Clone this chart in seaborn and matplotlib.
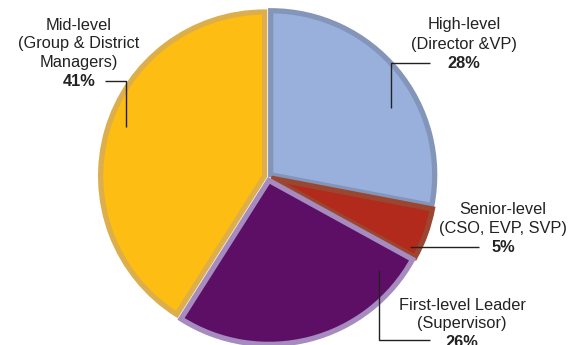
import matplotlib
matplotlib.use("Agg")
import matplotlib.pyplot as plt
import seaborn as sns

categories = ["High-level\n(Director &VP)", "Senior-level\n(CSO, EVP, SVP)",
              "First-level Leader\n(Supervisor)", "Mid-level\n(Group & District\nManagers)"]
values = [28, 5, 26, 41]
pct_labels = ["28%", "5%", "26%", "41%"]
colors = ["#9ab0dc", "#b12a1c", "#5d0f66", "#fdbd12"]
rim_colors = ["#8495ba", "#9a4630", "#a68bbf", "#dcae4c"]

sns.set_theme(style="white")
plt.rcParams['font.family'] = ['Liberation Sans', 'DejaVu Sans']

W, H = 569, 345
fig = plt.figure(figsize=(W / 100, H / 100), dpi=100)
ax = fig.add_axes([0, 0, 1, 1])

cx, cy = 268, H - 177
R = 164
wedges, _ = ax.pie(values, colors=colors, startangle=90, counterclock=False,
                   center=(cx, cy), radius=R, explode=[3.5] * 4,
                   wedgeprops=dict(linewidth=0), frame=True)
for w, rc in zip(wedges, rim_colors):
    w.set_edgecolor(rc)
    w.set_linewidth(3.8)
    w.set_clip_path(w)
ax.set_xlim(0, W)
ax.set_ylim(0, H)
ax.set_aspect("equal")
ax.axis("off")

tc = "#222222"
fs = 11.8

def label(x, y_top, text, pct, line_h=19):
    lines = text.split("\n")
    for i, ln in enumerate(lines):
        ax.text(x, H - (y_top + i * line_h), ln, ha="center", va="center",
                fontsize=fs, color=tc)
    ax.text(x, H - (y_top + len(lines) * line_h), pct, ha="center", va="center",
            fontsize=fs, color=tc, fontweight="bold")

label(79, 25, categories[3], pct_labels[3], line_h=18.7)
label(464, 25, categories[0], pct_labels[0], line_h=19)
label(503, 210, categories[1], pct_labels[1], line_h=19)
label(462, 305, categories[2], pct_labels[2], line_h=18.7)

lc = "#222222"
lw = 1.0
def leader(pts):
    xs = [p[0] for p in pts]
    ys = [H - p[1] for p in pts]
    ax.plot(xs, ys, color=lc, lw=lw, solid_capstyle="butt")

leader([(105, 81), (126, 81), (126, 127)])
leader([(430, 63), (391, 63), (391, 108)])
leader([(410, 247), (479, 247)])
leader([(379, 270), (379, 340), (430, 340)])

fig.savefig("out.png", dpi=100)
